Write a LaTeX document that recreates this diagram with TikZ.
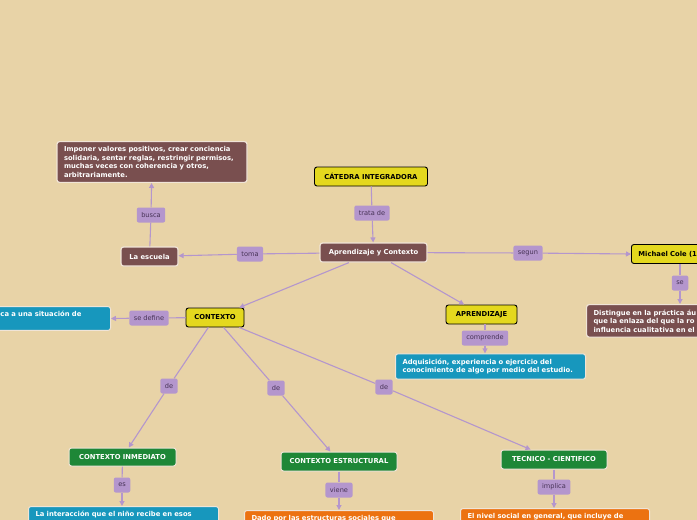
\documentclass[tikz,border=0pt]{standalone}
\usepackage{fontspec}
\setmainfont{DejaVu Sans}
\usepackage{tikz}
\usetikzlibrary{arrows.meta, positioning}
\definecolor{cBg}{RGB}{232,211,167}
\definecolor{cYellow}{RGB}{228,216,30}
\definecolor{cBrown}{RGB}{121,79,79}
\definecolor{cBlue}{RGB}{23,151,189}
\definecolor{cGreen}{RGB}{30,135,55}
\definecolor{cOrange}{RGB}{236,114,17}
\definecolor{cLink}{RGB}{180,150,205}
\definecolor{cLinkText}{RGB}{70,50,85}
\definecolor{cEdge}{RGB}{240,228,215}
\tikzset{
	concept/.style={rectangle, rounded corners=2.5pt, align=center, font=\fontsize{6.8}{8.5}\selectfont\bfseries, minimum height=19pt, inner xsep=6pt, inner ysep=5pt},
	yellowbox/.style={concept, draw=black, line width=0.9pt, fill=cYellow, text=black},
	brownbox/.style ={concept, draw=cEdge, line width=1.2pt, fill=cBrown, text=white},
	greenbox/.style ={concept, draw=cEdge, line width=1pt, fill=cGreen, text=white},
	bluebox/.style  ={concept, draw=cEdge, line width=1pt, fill=cBlue, text=white},
	orangebox/.style={concept, draw=cEdge, line width=1pt, fill=cOrange, text=white},
	para/.style={align=left, inner xsep=7pt, execute at begin node={\hyphenpenalty=10000}},
	linklbl/.style={rectangle, rounded corners=2pt, fill=cLink, text=cLinkText, font=\fontsize{6.6}{7}\selectfont, minimum height=15pt, inner xsep=4.5pt, inner ysep=2pt},
	link/.style={draw=cLink, line width=1.1pt},
	linkarrow/.style={link, -{Triangle[length=5pt,width=5pt]}},
}
\begin{document}
\begin{tikzpicture}[x=1pt, y=-1pt]
	\fill[cBg] (0,0) rectangle (697,520);
	\useasboundingbox (0,0) rectangle (697,520);
	\clip (0,0) rectangle (697,520);
	% main concepts
	\node[yellowbox, minimum width=113pt] (catedra) at (371,176.5) {CÁTEDRA INTEGRADORA};
	\node[brownbox, minimum width=107pt] (aprctx) at (373.5,252.5) {Aprendizaje y Contexto};
	\node[brownbox, minimum width=57pt] (escuela) at (149.5,256.5) {La escuela};
	\node[brownbox, para, text width=176pt] (imponer) at (152,162) {Imponer valores positivos, crear conciencia\\solidaria, sentar reglas, restringir permisos,\\muchas veces con coherencia y otros,\\arbitrariamente.};
	\node[yellowbox, anchor=west, minimum width=110pt, align=left, text width=96pt] (cole) at (631,254) {Michael Cole (1};
	\node[brownbox, para, anchor=north west, text width=160pt] (distingue) at (586,304) {Distingue en la práctica áu\\que la enlaza del que la ro\\influencia cualitativa en el};
	\node[yellowbox, minimum width=58pt] (contexto) at (215,317.5) {CONTEXTO};
	\node[bluebox, para, anchor=east, text width=103pt] (situacion) at (111,318.5) {ca a una situación de\\~};
	\node[yellowbox, minimum width=71pt] (aprend) at (481.5,314.5) {APRENDIZAJE};
	\node[bluebox, para, text width=176pt] (adquis) at (490.5,366.5) {Adquisición, experiencia o ejercicio del\\conocimiento de algo por medio del estudio.};
	\node[greenbox, minimum width=107pt, minimum height=18pt] (inmediato) at (122.5,457) {CONTEXTO INMEDIATO};
	\node[greenbox, minimum width=116pt] (estruct) at (339,461.5) {CONTEXTO ESTRUCTURAL};
	\node[greenbox, minimum width=106pt] (tecnico) at (554,459.5) {TECNICO - CIENTIFICO};
	\node[bluebox, para, anchor=north west, text width=176pt] (interac) at (28,506) {La interacción que el niño recibe en esos\\~\\~};
	\node[orangebox, para, anchor=north west, text width=175pt] (dado) at (244,510) {Dado por las estructuras sociales que\\~\\~};
	\node[orangebox, para, anchor=north west, text width=175pt] (nivel) at (460,508) {El nivel social en general, que incluye de\\~\\~};
	% link labels
	\node[linklbl] (trata) at (372,213) {trata de};
	\node[linklbl] (toma) at (250,254) {toma};
	\node[linklbl] (busca) at (151,215) {busca};
	\node[linklbl] (segun) at (528,253) {segun};
	\node[linklbl] (se) at (680,283) {se};
	\node[linklbl] (sedef) at (149,318) {se define};
	\node[linklbl] (compr) at (485,338) {comprende};
	\node[linklbl] (de1) at (169,386) {de};
	\node[linklbl] (de2) at (276,388) {de};
	\node[linklbl] (de3) at (384,387) {de};
	\node[linklbl] (es) at (122,485) {es};
	\node[linklbl] (viene) at (339,490) {viene};
	\node[linklbl] (implica) at (554,487) {implica};
	% connectors
	\draw[link] (catedra) -- (trata);
	\draw[linkarrow] (trata) -- (aprctx);
	\draw[link] (aprctx) -- (toma);
	\draw[linkarrow] (toma) -- (escuela);
	\draw[link] (escuela) -- (busca);
	\draw[linkarrow] (busca) -- (imponer);
	\draw[link] (aprctx) -- (segun);
	\draw[linkarrow] (segun) -- (cole.west);
	\draw[link] (cole.south -| se) -- (se);
	\draw[linkarrow] (se) -- (se |- distingue.north);
	\draw[linkarrow] (aprctx) -- (contexto);
	\draw[linkarrow] (aprctx) -- (aprend);
	\draw[link] (contexto) -- (sedef);
	\draw[linkarrow] (sedef) -- (situacion.east);
	\draw[link] (aprend.south -| compr) -- (compr);
	\draw[linkarrow] (compr) -- (compr |- adquis.north);
	\draw[link] (contexto) -- (de1);
	\draw[linkarrow] (de1) -- (inmediato);
	\draw[link] (contexto) -- (de2);
	\draw[linkarrow] (de2) -- (estruct);
	\draw[link] (contexto) -- (de3);
	\draw[linkarrow] (de3) -- (tecnico);
	\draw[link] (inmediato) -- (es);
	\draw[linkarrow] (es) -- (es |- interac.north);
	\draw[link] (estruct) -- (viene);
	\draw[linkarrow] (viene) -- (viene |- dado.north);
	\draw[link] (tecnico) -- (implica);
	\draw[linkarrow] (implica) -- (implica |- nivel.north);
\end{tikzpicture}
\end{document}
